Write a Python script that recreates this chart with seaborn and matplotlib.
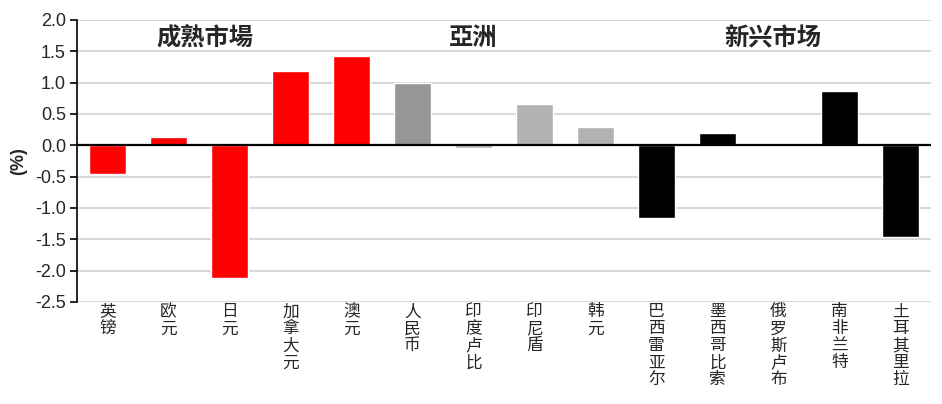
import matplotlib
matplotlib.use("Agg")
import matplotlib.pyplot as plt
import seaborn as sns
import pandas as pd

categories = ["英镑", "欧元", "日元", "加拿大元", "澳元", "人民币", "印度卢比", "印尼盾",
              "韩元", "巴西雷亚尔", "墨西哥比索", "俄罗斯卢布", "南非兰特", "土耳其里拉"]
values = [-0.45, 0.14, -2.11, 1.19, 1.43, 1.00, -0.04, 0.66, 0.29, -1.16, 0.20, 0.0, 0.87, -1.47]
colors = ["#FF0000"] * 5 + ["#969696"] + ["#B2B2B2"] * 3 + ["#000000"] * 5
groups = ["成熟市場", "亞洲", "新兴市场"]
group_centers = [1.6, 6.0, 10.9]
yticks = [2.0, 1.5, 1.0, 0.5, 0.0, -0.5, -1.0, -1.5, -2.0, -2.5]

sns.set_theme(style="white")
plt.rcParams["font.family"] = ["Liberation Sans", "Noto Sans CJK SC", "DejaVu Sans"]

df = pd.DataFrame({"cat": categories, "val": values})

fig = plt.figure(figsize=(9.42, 4.04), dpi=100)
ax = fig.add_axes([77 / 942, 1 - 302 / 404, (931 - 77) / 942, (302 - 20) / 404])

sns.barplot(data=df, x="cat", y="val", hue="cat", palette=colors, legend=False,
            width=0.6, ax=ax, zorder=3, saturation=1)

ax.set_ylim(-2.5, 2.0)
ax.set_xlim(-0.5, len(categories) - 0.5)
ax.set_yticks(yticks)
ax.set_yticklabels([f"{t:.1f}" for t in yticks], fontsize=13)
ax.yaxis.grid(True, color="#D9D9D9", linewidth=1.5, zorder=0)
ax.set_axisbelow(True)
ax.axhline(0, color="black", linewidth=1.6, zorder=4)

for s in ["top", "right", "bottom"]:
    ax.spines[s].set_visible(False)
ax.spines["left"].set_color("black")
ax.spines["left"].set_linewidth(1.2)
ax.tick_params(axis="y", direction="out", length=5, width=1.2, color="black", pad=3, left=True)
ax.tick_params(axis="x", length=0, pad=1)

ax.set_xticks(range(len(categories)))
ax.set_xticklabels(["\n".join(c) for c in categories],
                   family=["Noto Sans CJK SC"], fontsize=12, linespacing=1.0,
                   va="top")
ax.set_xlabel("")
ax.set_ylabel("(%)", fontsize=13, fontweight="bold", labelpad=6)

for g, cx in zip(groups, group_centers):
    ax.text(cx, 1.71, g, ha="center", va="center", fontsize=17.5, fontweight="bold",
            family=["Noto Sans CJK SC"], zorder=5)

fig.savefig("out.png", dpi=100)
